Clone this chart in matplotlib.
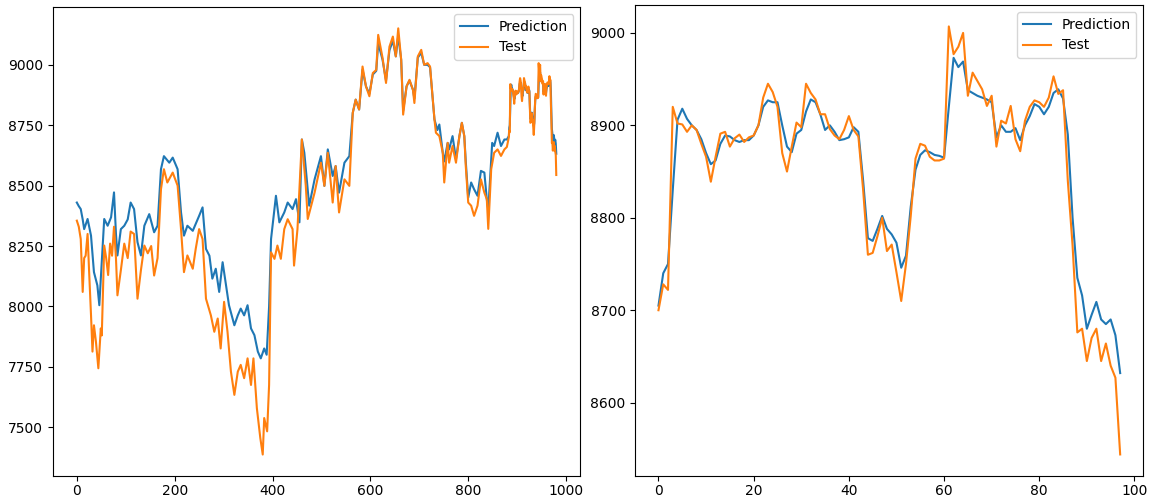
import matplotlib
matplotlib.use("Agg")
import matplotlib.pyplot as plt
import numpy as np

# last 98 samples (right panel)
tail_pred = [8705, 8740, 8750, 8830, 8906, 8918, 8907, 8900, 8895, 8885,
             8870, 8858, 8862, 8880, 8889, 8888, 8884, 8882, 8884, 8884,
             8889, 8900, 8920, 8927, 8925, 8925, 8900, 8877, 8871, 8891,
             8895, 8915, 8928, 8925, 8912, 8895, 8900, 8893, 8884, 8885,
             8887, 8898, 8893, 8840, 8778, 8775, 8788, 8802, 8788, 8782,
             8773, 8746, 8759, 8812, 8852, 8868, 8873, 8871, 8868, 8867,
             8865, 8920, 8973, 8963, 8969, 8938, 8935, 8932, 8930, 8928,
             8925, 8887, 8900, 8893, 8893, 8897, 8884, 8900, 8910, 8923,
             8920, 8912, 8920, 8935, 8939, 8929, 8890, 8800, 8735, 8716,
             8680, 8695, 8709, 8690, 8685, 8690, 8673, 8632]
tail_test = [8700, 8728, 8722, 8920, 8902, 8901, 8893, 8900, 8895, 8880,
             8866, 8839, 8866, 8891, 8893, 8877, 8886, 8890, 8882, 8887,
             8889, 8900, 8930, 8945, 8936, 8920, 8870, 8850, 8877, 8903,
             8898, 8945, 8935, 8928, 8912, 8912, 8896, 8889, 8885, 8895,
             8910, 8895, 8888, 8830, 8760, 8762, 8780, 8800, 8764, 8771,
             8741, 8710, 8750, 8802, 8864, 8880, 8878, 8866, 8862, 8862,
             8864, 9007, 8977, 8985, 9000, 8932, 8957, 8948, 8939, 8921,
             8932, 8877, 8905, 8902, 8921, 8885, 8872, 8905, 8920, 8927,
             8925, 8920, 8930, 8953, 8934, 8938, 8840, 8770, 8676, 8680,
             8645, 8670, 8680, 8645, 8664, 8640, 8627, 8544]

# earlier part of the full series (left panel), read at visible turning points
head_idx_pred = [0, 4, 8, 12, 15, 22, 29, 35, 42, 46, 49, 56, 63, 70, 76, 80, 83, 90, 97, 104,
                 110, 117, 124, 131, 138, 148, 158, 165, 172, 178, 189, 196, 206, 213, 219, 226,
                 237, 250, 257, 264, 271, 277, 284, 291, 298, 305, 311, 322, 329, 335, 342, 349,
                 356, 363, 370, 376, 383, 388, 393, 397, 407, 414, 424, 431, 441, 448, 455, 460,
                 465, 475, 486, 499, 506, 513, 523, 529, 536, 547, 557, 564, 570, 577, 584, 591,
                 598, 605, 612, 616, 625, 632, 639, 646, 652, 657, 663, 667, 674, 680, 687, 690,
                 697, 704, 710, 717, 722, 731, 737, 741, 748, 751, 758, 761, 768, 775, 782, 787,
                 792, 795, 800, 806, 812, 819, 826, 833, 838, 841, 849, 853, 860, 867, 874, 879]
head_pred = [8430, 8415, 8403, 8360, 8320, 8362, 8293, 8142, 8087, 8005, 8115, 8362, 8334, 8369,
             8472, 8300, 8211, 8320, 8334, 8360, 8430, 8403, 8266, 8211, 8334, 8382, 8307, 8334,
             8568, 8622, 8595, 8616, 8568, 8389, 8293, 8334, 8313, 8375, 8410, 8238, 8210, 8115,
             8156, 8060, 8183, 8087, 8005, 7922, 7963, 7991, 7963, 8005, 7909, 7881, 7813, 7785,
             7826, 7800, 8000, 8279, 8458, 8348, 8389, 8430, 8403, 8444, 8348, 8691, 8636, 8417,
             8526, 8622, 8499, 8650, 8540, 8581, 8471, 8595, 8622, 8801, 8856, 8815, 8980, 8911,
             8880, 8960, 8975, 9090, 9020, 8935, 9060, 9100, 9035, 9120, 9021, 8810, 8911, 8935,
             8897, 8860, 9030, 9050, 9000, 9000, 8990, 8774, 8730, 8753, 8636, 8600, 8677, 8650,
             8705, 8610, 8705, 8760, 8705, 8600, 8450, 8513, 8485, 8458, 8561, 8554, 8444, 8400,
             8677, 8664, 8719, 8664, 8691, 8691]

head_idx_test = [0, 4, 8, 12, 15, 18, 22, 25, 29, 32, 35, 39, 44, 49, 51, 56, 60, 64, 68, 72,
                 76, 80, 83, 90, 97, 104, 110, 117, 124, 131, 138, 145, 152, 158, 165, 172, 178,
                 185, 196, 206, 213, 219, 226, 237, 243, 250, 257, 264, 274, 281, 288, 294, 301,
                 308, 315, 322, 329, 335, 342, 349, 356, 361, 368, 375, 380, 383, 389, 393, 397,
                 404, 410, 417, 424, 431, 441, 444, 451, 460, 468, 472, 486, 499, 506, 513, 523,
                 529, 536, 547, 557, 564, 570, 577, 584, 591, 598, 605, 612, 616, 625, 632, 639,
                 646, 652, 657, 663, 667, 674, 680, 687, 690, 697, 704, 710, 717, 722, 731, 734,
                 741, 748, 751, 758, 761, 768, 775, 782, 787, 792, 795, 800, 806, 812, 819, 826,
                 833, 838, 841, 847, 853, 860, 867, 874, 879]
head_test = [8355, 8330, 8279, 8060, 8200, 8210, 8300, 8150, 7964, 7813, 7922, 7855, 7744, 7909,
             7880, 8252, 8200, 8130, 8260, 8210, 8330, 8200, 8046, 8150, 8260, 8200, 8310, 8300,
             8032, 8150, 8252, 8220, 8250, 8128, 8200, 8485, 8568, 8513, 8554, 8500, 8320, 8142,
             8211, 8156, 8238, 8320, 8279, 8032, 7963, 7895, 7950, 7826, 8019, 7895, 7730, 7634,
             7730, 7758, 7703, 7785, 7675, 7785, 7579, 7456, 7387, 7538, 7483, 7675, 8224, 8197,
             8252, 8197, 8320, 8361, 8320, 8169, 8320, 8691, 8499, 8362, 8471, 8595, 8499, 8636,
             8430, 8581, 8389, 8526, 8499, 8801, 8856, 8815, 8993, 8911, 8870, 8966, 8979, 9124,
             9028, 8925, 9075, 9117, 9035, 9151, 9021, 8794, 8911, 8938, 8897, 8842, 9035, 9062,
             9000, 9007, 8993, 8774, 8719, 8705, 8636, 8513, 8677, 8595, 8664, 8595, 8705, 8760,
             8705, 8581, 8430, 8417, 8375, 8417, 8526, 8471, 8444, 8321, 8568, 8636, 8650, 8623,
             8650, 8660]

tail_start = 883

tail_idx = tail_start + np.arange(len(tail_pred))
x_pred = np.concatenate([head_idx_pred, tail_idx])
y_pred = np.concatenate([head_pred, tail_pred])
x_test = np.concatenate([head_idx_test, tail_idx])
y_test = np.concatenate([head_test, tail_test])

plt.rcParams['font.size'] = 10
fig = plt.figure(figsize=(11.49, 5.03), dpi=100)

ax1 = fig.add_axes([0.046, 0.054, 0.459, 0.932])
ax1.plot(x_pred, y_pred, label='Prediction')
ax1.plot(x_test, y_test, label='Test')
ax1.legend(loc='upper right')

ax2 = fig.add_axes([0.553, 0.054, 0.442, 0.936])
ax2.plot(tail_pred, label='Prediction')
ax2.plot(tail_test, label='Test')
ax2.legend(loc='upper right')

for ax in (ax1, ax2):
    ax.tick_params(axis='x', pad=2.5)

fig.savefig('out.png', dpi=100)
